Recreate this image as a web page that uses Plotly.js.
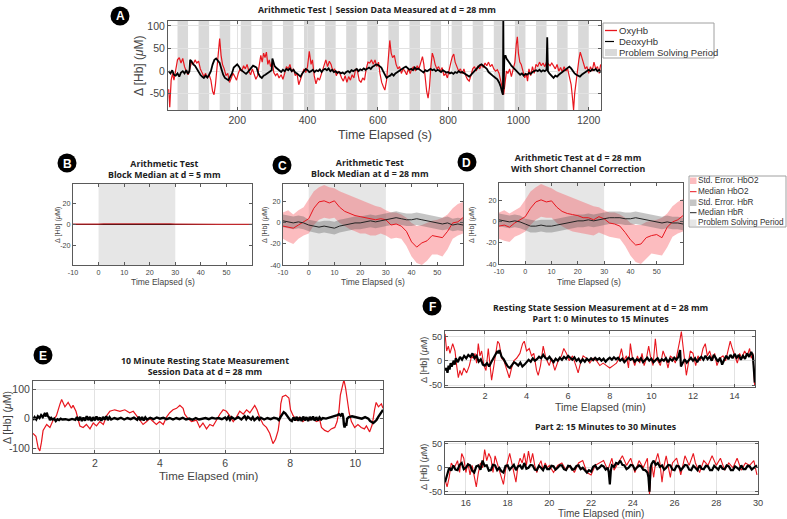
<!DOCTYPE html>
<html><head><meta charset="utf-8">
<script src="https://cdn.plot.ly/plotly-3.0.1.min.js"></script>
<style>html,body{margin:0;padding:0;background:#fff}#chart{width:787px;height:519px}</style>
</head><body><div id="chart"></div>
<script>
// ---------- Panel A: session data (time s, value uM) ----------
const oxyA = [[5,-40],[8,-80],[12,-20],[16,-5],[20,-20],[25,5],[30,25],[35,30],[40,18],[45,28],[50,10],[55,0],[60,-8],[65,5],[70,20],[75,15],[80,25],[85,18],[90,22],[95,5],[100,-5],[105,-12],[110,-5],[115,-15],[120,-8],[125,-20],[130,-45],[134,-52],[138,-30],[142,10],[146,40],[150,72],[154,35],[158,15],[163,5],[168,-10],[173,-5],[178,-25],[183,-15],[188,-5],[193,-12],[198,-20],[203,-5],[208,5],[213,0],[218,12],[223,5],[228,15],[233,0],[238,-8],[243,5],[248,-5],[253,-18],[258,-10],[263,15],[267,35],[271,20],[275,40],[279,30],[283,42],[287,15],[291,25],[295,10],[300,20],[304,-3],[309,-10],[314,-5],[319,-15],[325,-8],[330,-18],[335,-5],[340,10],[345,5],[350,15],[355,-2],[360,5],[365,-10],[370,-5],[375,-30],[379,-20],[384,-8],[390,5],[395,-3],[400,10],[405,44],[410,15],[414,25],[419,-10],[424,-28],[429,-15],[434,-20],[440,-5],[446,10],[452,25],[457,10],[462,22],[467,15],[472,0],[477,5],[482,-10],[487,0],[492,-5],[497,-15],[502,-22],[507,-10],[512,-25],[517,-12],[522,-20],[527,-8],[532,-15],[537,5],[542,0],[547,-20],[552,-25],[557,-15],[562,-20],[567,5],[572,20],[577,18],[582,25],[587,15],[592,25],[597,10],[602,20],[606,-5],[611,-25],[616,-35],[620,-42],[625,-20],[630,20],[634,68],[638,40],[642,30],[647,35],[652,15],[657,5],[662,10],[667,-5],[672,5],[677,0],[682,-8],[687,5],[692,-5],[697,5],[702,10],[707,0],[712,12],[717,5],[722,20],[727,32],[731,15],[735,-20],[739,-45],[743,-60],[747,-35],[751,10],[755,40],[759,30],[763,15],[768,5],[773,10],[778,0],[783,8],[788,-10],[793,-5],[798,-15],[803,5],[808,20],[812,32],[816,38],[820,20],[825,10],[830,0],[835,5],[840,-5],[845,5],[850,-10],[855,-18],[860,-22],[865,-10],[870,5],[875,10],[880,0],[885,12],[890,5],[895,15],[900,8],[905,18],[910,12],[915,20],[920,10],[925,15],[930,5],[935,0],[940,3],[945,-5],[950,-20],[955,-40],[958,-52],[962,-20],[966,0],[970,-5],[975,5],[980,-12],[985,5],[990,20],[994,60],[997,76],[1000,40],[1004,20],[1008,15],[1013,0],[1018,-15],[1022,-5],[1026,-22],[1030,5],[1035,-10],[1040,10],[1045,-5],[1050,15],[1055,10],[1060,20],[1065,12],[1070,18],[1075,10],[1080,20],[1085,15],[1090,12],[1095,18],[1100,10],[1105,5],[1110,15],[1115,0],[1120,8],[1125,-2],[1130,10],[1135,0],[1140,5],[1145,-10],[1150,-30],[1154,-60],[1157,-86],[1160,-50],[1164,-20],[1168,5],[1172,25],[1176,42],[1180,30],[1185,15],[1190,5],[1195,10],[1200,-5],[1205,10],[1210,0],[1215,20],[1220,5],[1225,10],[1230,-5],[1234,15]];
const deoxyA = [[5,0],[10,-5],[15,2],[20,-8],[25,-10],[30,-5],[35,-12],[40,-3],[45,0],[50,-5],[55,2],[60,-6],[64,0],[66,25],[70,22],[75,15],[80,12],[85,5],[90,-3],[95,-8],[100,-12],[105,-15],[110,-10],[115,-14],[120,-8],[125,0],[130,15],[135,25],[140,28],[145,22],[150,18],[155,5],[160,-8],[165,-15],[170,-18],[175,-20],[180,-12],[185,-5],[190,8],[195,12],[200,15],[205,10],[210,3],[215,0],[220,-3],[225,-6],[230,-2],[235,3],[240,8],[245,12],[250,10],[255,8],[260,-5],[265,-12],[270,-15],[275,-10],[280,-8],[285,-5],[290,-2],[295,0],[298,2],[300,28],[303,20],[306,12],[310,8],[315,5],[320,0],[325,-2],[330,3],[335,0],[340,5],[345,2],[350,6],[355,0],[360,3],[365,-3],[370,-5],[375,-8],[380,-12],[385,-5],[390,0],[395,5],[400,2],[405,-2],[410,0],[415,3],[420,-2],[425,2],[430,0],[435,4],[440,-2],[445,3],[450,5],[455,2],[460,6],[465,0],[470,3],[475,-2],[480,0],[485,-4],[490,-2],[495,-5],[500,-3],[505,-6],[510,-2],[515,0],[520,-3],[525,2],[530,0],[535,3],[540,5],[545,0],[550,4],[555,2],[560,6],[565,3],[570,5],[575,8],[580,5],[585,10],[590,12],[595,15],[600,14],[605,10],[610,8],[615,0],[620,-8],[625,-15],[630,-12],[635,-10],[640,-6],[645,-10],[650,-5],[655,-2],[660,0],[665,3],[670,5],[675,8],[680,10],[685,6],[690,3],[695,5],[700,2],[705,8],[710,4],[715,6],[720,2],[725,0],[730,-3],[735,2],[740,0],[745,3],[750,5],[755,2],[760,4],[765,0],[770,3],[775,1],[780,-2],[785,2],[790,0],[795,-3],[800,-2],[805,-5],[810,-3],[815,-6],[820,-2],[825,-4],[830,0],[835,-3],[840,-2],[845,-5],[850,-8],[855,-10],[860,-12],[865,-8],[870,-4],[875,0],[880,5],[885,10],[890,13],[895,15],[900,12],[905,10],[910,5],[915,-2],[920,-6],[925,-10],[930,-12],[935,-15],[940,-18],[945,-25],[950,-35],[954,-48],[956,-52],[957,112],[958,-40],[960,30],[963,35],[966,28],[970,22],[975,18],[980,12],[985,8],[990,3],[995,-2],[1000,-5],[1005,-8],[1010,-5],[1015,-10],[1020,-6],[1025,-8],[1030,-4],[1035,-6],[1040,-2],[1045,0],[1050,2],[1055,0],[1060,3],[1065,-1],[1070,2],[1075,0],[1080,3],[1082,75],[1084,0],[1088,-5],[1092,-8],[1096,-12],[1100,-15],[1105,-10],[1110,-12],[1115,-8],[1120,-5],[1125,0],[1130,3],[1135,5],[1140,8],[1145,10],[1150,6],[1155,0],[1160,-5],[1165,-8],[1170,-10],[1175,-12],[1180,-8],[1185,-5],[1190,-2],[1195,0],[1200,3],[1205,0],[1210,4],[1215,2],[1220,5],[1225,0],[1230,3],[1234,-3]];
const problemStartA = [30,90,150,210,270,330,390,450,510,570,630,690,750,810,870,930,990,1050,1110,1170];
const problemEndA   = [60,120,180,240,300,360,420,480,540,600,660,720,780,840,900,960,1020,1080,1140,1200];
const xTicksA = [200,400,600,800,1000,1200];
const yTicksA = [-50,0,50,100];
const legendA = ['OxyHb','DeoxyHb','Problem Solving Period'];

// ---------- Panels B, C, D: block medians (time s) ----------
const tBlock = [-10,-8,-6,-4,-2,0,2,4,6,8,10,12,14,16,18,20,22,24,26,28,30,32,34,36,38,40,42,44,46,48,50,52,54,56,58,60];
const bMedianHbO2 = [0.3,0.2,0.3,0.2,0.3,0.4,0.5,0.6,0.5,0.6,0.5,0.6,0.5,0.6,0.5,0.6,0.5,0.5,0.4,0.5,0.4,0.3,0.4,0.3,0.2,0.3,0.2,0.1,0.2,0.1,0.2,0.1,0.2,0.1,0.2,0.1];
const bMedianHbR  = [0,0,0,0,0,0,0,0,0,0,0,0,0,0,0,0,0,0,0,0,0,0,0,0,0,0,0,0,0,0,0,0,0,0,0,0];
const cMedianHbO2 = [-3,-4,-5,-2,1,4,14,20,21,19,21,15,11,9,7,6,5,4,3,4,3,-2,-1,-3,-8,-18,-23,-19,-17,-12,-13,-14,-8,0,1,5];
const cUpperHbO2  = [10,12,8,12,15,22,30,34,36,34,33,30,28,26,24,22,20,18,16,15,12,10,10,8,5,0,-3,-2,0,2,3,5,8,14,18,20];
const cLowerHbO2  = [-15,-18,-20,-15,-12,-10,-2,3,5,4,5,0,-3,-6,-8,-10,-10,-12,-12,-10,-12,-15,-14,-15,-22,-32,-38,-40,-36,-30,-30,-32,-25,-15,-12,-10];
const cMedianHbR  = [2,1,0,1,0,-2,-3,-4,-3,-4,-5,-3,-2,-1,0,0,1,2,1,2,3,4,5,4,3,3,4,3,2,1,0,-1,0,-2,-1,-2];
const cUpperHbR   = [8,7,6,7,6,3,2,1,2,2,1,3,4,5,6,6,7,8,7,8,9,10,11,10,9,9,10,9,8,7,6,5,6,4,5,4];
const cLowerHbR   = [-4,-5,-6,-5,-6,-8,-9,-10,-9,-10,-11,-9,-8,-7,-6,-6,-5,-4,-5,-4,-3,-2,-1,-2,-3,-3,-2,-3,-4,-5,-6,-7,-6,-8,-7,-8];
const dMedianHbO2 = [-4,-3,-5,-1,2,5,13,19,21,19,20,14,10,8,7,6,4,4,2,5,3,-1,-2,-4,-10,-17,-22,-21,-15,-13,-12,-15,-5,0,2,6];
const dUpperHbO2  = [9,11,8,11,14,21,29,33,36,34,32,29,27,25,23,21,19,17,15,14,11,9,9,7,4,-1,-3,-3,0,1,2,4,8,15,19,22];
const dLowerHbO2  = [-16,-18,-19,-14,-12,-9,-3,2,5,4,4,-1,-4,-7,-9,-10,-11,-12,-13,-10,-12,-14,-15,-16,-23,-32,-38,-40,-35,-30,-31,-32,-24,-14,-11,-9];
const dMedianHbR  = [2,1,0,1,0,-2,-4,-4,-3,-4,-4,-3,-2,-1,0,1,1,2,1,2,3,4,4,4,3,3,4,3,2,1,0,-1,0,-1,-1,-2];
const dUpperHbR   = [8,7,6,7,6,3,2,1,2,2,2,3,4,5,6,7,7,8,7,8,9,10,10,10,9,9,10,9,8,7,6,5,6,5,5,4];
const dLowerHbR   = [-4,-5,-6,-5,-6,-8,-10,-10,-9,-10,-10,-9,-8,-7,-6,-5,-5,-4,-5,-4,-3,-2,-2,-2,-3,-3,-2,-3,-4,-5,-6,-7,-6,-7,-7,-8];
const problemStartBlock = [0];
const problemEndBlock = [30];
const xTicksBlock = [-10,0,10,20,30,40,50];
const yTicksBlock = [-40,-20,0,20];
const legendD = ['Std. Error. HbO2','Median HbO2','Std. Error. HbR','Median HbR','Problem Solving Period'];

// ---------- Panel E: 10 min resting state (time min) ----------
const oxyE = [[0.1,-50],[0.19,-60],[0.26,-100],[0.31,-110],[0.36,-80],[0.41,-40],[0.52,-20],[0.62,-30],[0.72,-5],[0.82,10],[0.93,50],[0.98,65],[1.08,40],[1.18,55],[1.28,35],[1.33,45],[1.42,25],[1.49,-10],[1.54,-25],[1.64,-30],[1.74,-20],[1.85,-35],[1.95,-15],[2.05,-25],[2.15,-10],[2.26,-20],[2.36,10],[2.46,25],[2.61,30],[2.77,25],[2.92,30],[3.07,20],[3.18,25],[3.28,10],[3.38,-5],[3.48,-20],[3.59,-10],[3.69,0],[3.79,-10],[3.89,-20],[3.99,-10],[4.1,-20],[4.2,5],[4.3,20],[4.4,30],[4.51,35],[4.61,45],[4.71,35],[4.76,15],[4.86,0],[4.97,-10],[5.12,-5],[5.22,-30],[5.32,-15],[5.43,-35],[5.53,-20],[5.63,-25],[5.73,-5],[5.84,15],[5.94,30],[6.04,25],[6.14,10],[6.25,-10],[6.35,5],[6.45,25],[6.56,15],[6.66,30],[6.76,20],[6.86,35],[6.91,45],[6.98,30],[7.06,5],[7.17,-20],[7.27,-30],[7.37,-50],[7.42,-70],[7.47,-85],[7.55,-70],[7.63,-40],[7.68,0],[7.71,50],[7.76,75],[7.86,80],[7.96,70],[8.01,30],[8.09,10],[8.19,-5],[8.29,5],[8.39,-10],[8.5,0],[8.6,-5],[8.7,5],[8.8,-10],[8.91,-5],[8.96,-30],[9.06,-40],[9.16,-45],[9.26,-35],[9.37,-30],[9.44,-10],[9.5,30],[9.54,80],[9.6,110],[9.65,132],[9.7,105],[9.75,60],[9.81,20],[9.88,-10],[9.98,-30],[10.08,-20],[10.18,-30],[10.28,-35],[10.34,-25],[10.44,-45],[10.52,-20],[10.59,30],[10.64,55],[10.71,40],[10.8,50],[10.85,35]];
const deoxyE = [[0.1,-5],[0.15,5],[0.2,-3],[0.25,8],[0.3,2],[0.35,12],[0.4,5],[0.45,15],[0.5,8],[0.52,20],[0.55,10],[0.6,3],[0.62,-5],[0.66,2],[0.7,-3],[0.75,0],[0.8,-8],[0.85,-2],[0.9,-5],[0.95,0],[1.0,-3],[1.1,-2],[1.2,-5],[1.3,-1],[1.4,-4],[1.45,5],[1.5,-6],[1.55,6],[1.6,-8],[1.65,4],[1.7,-7],[1.75,8],[1.8,-5],[1.85,6],[1.9,-8],[1.95,5],[2.0,-6],[2.05,7],[2.1,-5],[2.15,4],[2.2,-7],[2.25,6],[2.3,-4],[2.35,8],[2.4,-5],[2.45,5],[2.5,-3],[2.6,2],[2.7,-2],[2.8,3],[2.9,-3],[3.0,2],[3.1,-2],[3.2,3],[3.3,-4],[3.35,6],[3.4,-5],[3.45,5],[3.5,-6],[3.55,4],[3.6,-3],[3.7,3],[3.8,-2],[3.9,4],[4.0,0],[4.1,3],[4.2,-2],[4.3,2],[4.4,-3],[4.5,2],[4.6,-2],[4.7,3],[4.8,-3],[4.9,0],[5.0,-4],[5.1,2],[5.2,-3],[5.3,0],[5.4,2],[5.5,-2],[5.6,3],[5.7,0],[5.8,2],[5.9,-2],[6.0,4],[6.05,-3],[6.1,6],[6.15,-4],[6.2,5],[6.3,-2],[6.4,5],[6.5,-3],[6.6,8],[6.65,-2],[6.7,6],[6.8,-3],[6.85,5],[6.9,-5],[7.0,4],[7.05,-4],[7.1,3],[7.2,-3],[7.3,2],[7.4,-2],[7.5,3],[7.6,0],[7.65,-5],[7.7,5],[7.75,15],[7.8,22],[7.85,18],[7.9,10],[7.95,5],[8.0,-5],[8.05,-8],[8.1,4],[8.15,-6],[8.2,6],[8.25,-7],[8.3,5],[8.35,-8],[8.4,7],[8.45,-6],[8.5,5],[8.55,-8],[8.6,6],[8.65,-5],[8.7,7],[8.75,-7],[8.8,5],[8.85,-6],[8.9,4],[8.95,-3],[9.0,2],[9.1,0],[9.2,3],[9.3,5],[9.4,8],[9.45,12],[9.5,15],[9.55,10],[9.6,18],[9.63,5],[9.65,-20],[9.67,-30],[9.7,-15],[9.72,-25],[9.75,0],[9.8,5],[9.9,8],[10.0,5],[10.1,3],[10.2,0],[10.3,5],[10.4,0],[10.45,-8],[10.5,-12],[10.55,-15],[10.6,-10],[10.65,-5],[10.7,5],[10.75,15],[10.8,25],[10.85,30]];
const xTicksE = [2,4,6,8,10];
const yTicksE = [-100,0,100];

// ---------- Panel F: 30 min resting state (time min) ----------
const oxyF1 = [[0.08,55],[0.16,20],[0.24,30],[0.32,15],[0.45,35],[0.56,20],[0.64,-10],[0.72,-35],[0.8,-20],[0.88,-30],[0.99,-15],[1.12,-25],[1.25,-10],[1.36,10],[1.44,5],[1.52,15],[1.6,-5],[1.68,35],[1.76,10],[1.84,20],[1.95,-10],[2.05,-20],[2.16,25],[2.24,-15],[2.32,-40],[2.43,-10],[2.53,15],[2.61,40],[2.69,35],[2.8,5],[2.91,0],[3.04,-20],[3.17,-35],[3.28,-15],[3.39,0],[3.52,5],[3.68,15],[3.81,35],[3.89,40],[4.0,20],[4.13,25],[4.24,10],[4.35,15],[4.48,-20],[4.56,-30],[4.67,-10],[4.8,30],[4.93,5],[5.09,-10],[5.2,5],[5.36,-20],[5.52,0],[5.68,10],[5.79,25],[5.92,15],[6.05,0],[6.21,10],[6.37,-10],[6.48,-25],[6.59,-5],[6.72,10],[6.88,5],[7.04,-5],[7.2,5],[7.36,0],[7.52,-10],[7.68,-5],[7.84,-10],[8.0,-15],[8.16,-10],[8.32,-5],[8.45,5],[8.56,25],[8.67,0],[8.8,10],[8.9,-15],[8.99,35],[9.09,5],[9.2,-10],[9.33,10],[9.44,-5],[9.55,15],[9.65,-10],[9.76,5],[9.87,30],[9.95,10],[10.08,-10],[10.19,45],[10.3,0],[10.43,-10],[10.56,20],[10.69,5],[10.8,-15],[10.91,10],[11.04,5],[11.15,-5],[11.28,20],[11.36,40],[11.44,60],[11.52,30],[11.6,-10],[11.68,-30],[11.76,-10],[11.87,20],[12.0,15],[12.13,-10],[12.24,10],[12.35,0],[12.48,25],[12.59,35],[12.69,10],[12.8,20],[12.93,0],[13.04,15],[13.15,-10],[13.28,5],[13.44,10],[13.57,0],[13.68,20],[13.79,40],[13.89,25],[14.0,10],[14.13,-5],[14.24,15],[14.35,5],[14.48,20],[14.61,10],[14.72,25],[14.8,5],[14.88,15],[14.93,-20],[14.96,-50]];
const deoxyF1 = [[0.08,-20],[0.15,-15],[0.2,-25],[0.25,-10],[0.3,-18],[0.35,-5],[0.4,-12],[0.5,0],[0.55,-8],[0.6,5],[0.7,-3],[0.8,8],[0.9,2],[1.0,10],[1.1,5],[1.2,12],[1.3,8],[1.4,15],[1.5,5],[1.6,10],[1.7,-2],[1.8,3],[1.9,-8],[2.0,-10],[2.1,-5],[2.2,-12],[2.3,-3],[2.4,5],[2.5,12],[2.6,20],[2.65,15],[2.7,22],[2.8,8],[2.9,3],[3.0,-5],[3.1,-12],[3.2,-15],[3.3,-8],[3.4,-3],[3.5,-6],[3.6,-10],[3.7,-4],[3.8,-12],[3.9,-8],[4.0,-3],[4.1,2],[4.2,-2],[4.3,5],[4.4,0],[4.5,3],[4.6,8],[4.7,5],[4.8,12],[4.9,6],[5.0,3],[5.1,8],[5.2,2],[5.3,-3],[5.4,4],[5.5,0],[5.6,6],[5.7,2],[5.8,8],[5.9,4],[6.0,10],[6.1,5],[6.2,2],[6.3,7],[6.4,0],[6.5,4],[6.6,-3],[6.7,3],[6.8,-2],[6.9,4],[7.0,0],[7.1,5],[7.2,1],[7.3,6],[7.4,2],[7.5,5],[7.6,0],[7.7,4],[7.8,-2],[7.9,3],[8.0,6],[8.1,2],[8.2,7],[8.3,3],[8.4,6],[8.5,0],[8.6,4],[8.7,-3],[8.8,2],[8.9,6],[9.0,2],[9.1,5],[9.2,-2],[9.3,3],[9.4,0],[9.5,5],[9.6,-3],[9.7,2],[9.8,6],[9.9,0],[10.0,4],[10.1,-3],[10.2,2],[10.3,5],[10.4,-2],[10.5,3],[10.6,0],[10.7,5],[10.8,-3],[10.9,4],[11.0,0],[11.1,6],[11.2,2],[11.3,8],[11.38,22],[11.42,-12],[11.5,-5],[11.6,3],[11.7,-4],[11.8,2],[11.9,6],[12.0,0],[12.1,5],[12.2,-3],[12.3,4],[12.4,8],[12.5,2],[12.6,10],[12.7,3],[12.8,8],[12.9,0],[13.0,12],[13.1,5],[13.2,-2],[13.3,6],[13.4,-8],[13.5,2],[13.6,10],[13.7,3],[13.8,12],[13.9,5],[14.0,14],[14.1,6],[14.2,12],[14.3,2],[14.4,10],[14.5,4],[14.6,15],[14.7,8],[14.8,18],[14.88,10],[14.93,-25],[14.97,-45]];
const oxyF2 = [[15.0,-25],[15.1,-40],[15.2,-20],[15.3,10],[15.45,0],[15.6,15],[15.7,-10],[15.8,30],[15.9,20],[16.0,-10],[16.1,10],[16.2,-15],[16.3,5],[16.4,-20],[16.5,-40],[16.6,-10],[16.7,10],[16.8,0],[16.9,38],[17.0,15],[17.1,30],[17.2,20],[17.3,-10],[17.4,25],[17.5,10],[17.6,0],[17.7,-20],[17.8,-35],[17.9,-5],[18.0,15],[18.1,30],[18.2,10],[18.3,-10],[18.4,-30],[18.5,5],[18.6,20],[18.7,10],[18.8,30],[18.9,5],[19.0,35],[19.1,10],[19.2,30],[19.3,5],[19.4,-10],[19.5,5],[19.6,15],[19.7,-5],[19.8,10],[19.9,0],[20.0,5],[20.2,-10],[20.4,5],[20.6,10],[20.8,-5],[21.0,5],[21.2,-10],[21.4,10],[21.6,15],[21.8,-10],[22.0,-15],[22.2,5],[22.4,10],[22.6,15],[22.8,-5],[23.0,20],[23.1,-5],[23.3,10],[23.5,25],[23.7,5],[23.9,20],[24.1,-10],[24.3,15],[24.5,0],[24.7,20],[24.8,-55],[24.9,10],[25.0,-20],[25.1,15],[25.2,30],[25.3,10],[25.4,-30],[25.5,5],[25.6,25],[25.8,-20],[25.9,10],[26.1,20],[26.3,-15],[26.5,25],[26.7,5],[26.9,30],[27.0,10],[27.2,-10],[27.4,15],[27.6,5],[27.8,25],[28.0,5],[28.2,20],[28.4,-5],[28.6,10],[28.8,0],[29.0,20],[29.2,-5],[29.4,10],[29.6,5],[29.8,15],[29.95,-15]];
const deoxyF2 = [[15.0,-30],[15.1,-15],[15.2,0],[15.3,-6],[15.4,5],[15.5,-4],[15.6,-5],[15.7,6],[15.8,10],[15.9,-3],[16.0,0],[16.1,7],[16.2,5],[16.3,-6],[16.4,-10],[16.5,3],[16.6,5],[16.7,-4],[16.8,15],[16.9,4],[17.0,5],[17.1,-6],[17.2,-5],[17.3,6],[17.4,5],[17.5,-5],[17.6,0],[17.7,-7],[17.8,-10],[17.9,4],[18.0,5],[18.1,-4],[18.2,0],[18.3,6],[18.4,-5],[18.5,3],[18.6,5],[18.7,-3],[18.8,10],[18.9,-2],[19.0,0],[19.1,6],[19.2,5],[19.3,-4],[19.4,-5],[19.5,4],[19.6,0],[19.7,-5],[19.8,5],[19.9,-3],[20.0,-3],[20.1,4],[20.2,3],[20.3,-4],[20.4,0],[20.5,5],[20.6,5],[20.7,-3],[20.8,-5],[20.9,4],[21.0,3],[21.1,-4],[21.2,-3],[21.3,4],[21.4,5],[21.5,-3],[21.6,0],[21.7,-6],[21.8,-10],[21.9,-5],[22.0,-8],[22.1,2],[22.2,5],[22.3,-3],[22.4,0],[22.5,5],[22.6,3],[22.7,-4],[22.8,0],[22.85,-10],[22.9,-35],[22.95,-5],[23.0,5],[23.1,2],[23.2,10],[23.3,8],[23.4,15],[23.5,6],[23.6,5],[23.7,-3],[23.8,0],[23.9,6],[24.0,5],[24.1,-4],[24.2,0],[24.3,5],[24.4,3],[24.5,-4],[24.6,-5],[24.7,-10],[24.75,-20],[24.8,-50],[24.85,0],[24.9,8],[25.0,15],[25.1,6],[25.2,10],[25.3,2],[25.4,5],[25.5,-4],[25.6,0],[25.7,6],[25.8,5],[25.9,-4],[26.0,-5],[26.1,4],[26.2,3],[26.3,-5],[26.4,0],[26.5,6],[26.6,5],[26.7,-4],[26.8,-5],[26.9,4],[27.0,0],[27.1,-5],[27.2,5],[27.3,-2],[27.4,-3],[27.5,4],[27.6,3],[27.7,-5],[27.8,-5],[27.9,4],[28.0,0],[28.1,-4],[28.2,5],[28.3,-2],[28.4,-3],[28.5,5],[28.6,3],[28.7,-5],[28.8,-5],[28.9,3],[29.0,0],[29.1,-4],[29.2,5],[29.3,-3],[29.4,-3],[29.5,4],[29.6,3],[29.7,-4],[29.8,0],[29.95,5]];
const xTicksF1 = [2,4,6,8,10,12,14];
const xTicksF2 = [16,18,20,22,24,26,28,30];
const yTicksF = [-50,0,50];

// ---------- helpers ----------
const W = 787, H = 519;
const px = v => v / W;
const py = v => 1 - v / H;
const RED = '#e8161e';
const BLACK = '#000000';
const PINK = 'rgba(246,80,86,0.38)';
const GREYBAND = 'rgba(80,80,80,0.33)';
const TICKFONT = 'Liberation Sans, Arial, sans-serif';
const TITLEFONT = 'Open Sans, sans-serif';
const xs = pts => pts.map(p => p[0]);
const ys = pts => pts.map(p => p[1]);

function axis(domPx, range, anchor, tickvals, size, grid, isY) {
  const dom = isY ? [py(domPx[1]), py(domPx[0])] : [px(domPx[0]), px(domPx[1])];
  return {
    domain: dom, range: range, anchor: anchor, autorange: false,
    showline: true, mirror: 'ticks', linecolor: '#5a5a5a', linewidth: 1,
    ticks: 'inside', ticklen: 3, tickwidth: 1, tickcolor: '#5a5a5a',
    tickvals: tickvals, ticktext: tickvals.map(String),
    tickfont: { family: TICKFONT, size: size, color: '#444' },
    showgrid: grid, gridcolor: '#e2e2e2', gridwidth: 1,
    zeroline: false, automargin: false, fixedrange: true
  };
}

const traces = [];
// Panel A
traces.push({ x: xs(oxyA), y: ys(oxyA), xaxis: 'x', yaxis: 'y', type: 'scatter', mode: 'lines', line: { color: RED, width: 1.2 } });
traces.push({ x: xs(deoxyA), y: ys(deoxyA), xaxis: 'x', yaxis: 'y', type: 'scatter', mode: 'lines', line: { color: BLACK, width: 1.8 } });
// Panel B
traces.push({ x: tBlock, y: bMedianHbR, xaxis: 'x2', yaxis: 'y2', mode: 'lines', line: { color: BLACK, width: 1 } });
traces.push({ x: tBlock, y: bMedianHbO2, xaxis: 'x2', yaxis: 'y2', mode: 'lines', line: { color: '#c0282c', width: 1.2 } });
// Panels C and D
function blockTraces(xa, ya, lowO, upO, medO, lowR, upR, medR) {
  const none = { width: 0, color: 'rgba(0,0,0,0)' };
  return [
    { x: tBlock, y: lowO, xaxis: xa, yaxis: ya, mode: 'lines', line: none },
    { x: tBlock, y: upO, xaxis: xa, yaxis: ya, mode: 'lines', fill: 'tonexty', fillcolor: PINK, line: none },
    { x: tBlock, y: lowR, xaxis: xa, yaxis: ya, mode: 'lines', line: none },
    { x: tBlock, y: upR, xaxis: xa, yaxis: ya, mode: 'lines', fill: 'tonexty', fillcolor: GREYBAND, line: none },
    { x: tBlock, y: medO, xaxis: xa, yaxis: ya, mode: 'lines', line: { color: RED, width: 1 } },
    { x: tBlock, y: medR, xaxis: xa, yaxis: ya, mode: 'lines', line: { color: '#222', width: 1 } }
  ];
}
traces.push(...blockTraces('x3', 'y3', cLowerHbO2, cUpperHbO2, cMedianHbO2, cLowerHbR, cUpperHbR, cMedianHbR));
traces.push(...blockTraces('x4', 'y4', dLowerHbO2, dUpperHbO2, dMedianHbO2, dLowerHbR, dUpperHbR, dMedianHbR));
// Panel E
traces.push({ x: xs(oxyE), y: ys(oxyE), xaxis: 'x5', yaxis: 'y5', mode: 'lines', line: { color: RED, width: 1.2 } });
traces.push({ x: xs(deoxyE), y: ys(deoxyE), xaxis: 'x5', yaxis: 'y5', mode: 'lines', line: { color: BLACK, width: 2.4 } });
// Panel F
traces.push({ x: xs(oxyF1), y: ys(oxyF1), xaxis: 'x6', yaxis: 'y6', mode: 'lines', line: { color: RED, width: 1.1 } });
traces.push({ x: xs(deoxyF1), y: ys(deoxyF1), xaxis: 'x6', yaxis: 'y6', mode: 'lines', line: { color: BLACK, width: 2.2 } });
traces.push({ x: xs(oxyF2), y: ys(oxyF2), xaxis: 'x7', yaxis: 'y7', mode: 'lines', line: { color: RED, width: 1.1 } });
traces.push({ x: xs(deoxyF2), y: ys(deoxyF2), xaxis: 'x7', yaxis: 'y7', mode: 'lines', line: { color: BLACK, width: 2.2 } });
traces.forEach(t => { t.showlegend = false; t.hoverinfo = 'skip'; });

// shapes: problem-solving periods
const shapes = [];
problemStartA.forEach((s, i) => shapes.push({ type: 'rect', xref: 'x', yref: 'y domain', x0: s, x1: problemEndA[i], y0: 0, y1: 1,
  fillcolor: '#d9d9d9', line: { width: 0 }, layer: 'below' }));
[['x2', 'y2'], ['x3', 'y3'], ['x4', 'y4']].forEach(([xa, ya]) => {
  problemStartBlock.forEach((s, i) => shapes.push({ type: 'rect', xref: xa, yref: ya + ' domain', x0: s, x1: problemEndBlock[i], y0: 0, y1: 1,
    fillcolor: '#e6e6e6', line: { width: 0 }, layer: 'below' }));
});

const annotations = [];
function ann(text, x, y, size, extra) {
  annotations.push(Object.assign({ text: text, x: px(x), y: py(y), xref: 'paper', yref: 'paper',
    showarrow: false, xanchor: 'center', yanchor: 'middle', borderpad: 0,
    font: { family: TITLEFONT, size: size, color: '#222' } }, extra || {}));
}
function prect(x0, y0, x1, y1, fill, lineColor) {
  shapes.push({ type: 'rect', xref: 'paper', yref: 'paper', x0: px(x0), x1: px(x1), y0: py(y1), y1: py(y0),
    fillcolor: fill, line: lineColor ? { color: lineColor, width: 1 } : { width: 0 }, layer: 'above' });
}
function pline(x0, x1, y, color, width, dash) {
  shapes.push({ type: 'line', xref: 'paper', yref: 'paper', x0: px(x0), x1: px(x1), y0: py(y), y1: py(y),
    line: { color: color, width: width, dash: dash || 'solid' }, layer: 'above' });
}
function label(letter, cx, cy) {
  shapes.push({ type: 'circle', xref: 'paper', yref: 'paper', x0: px(cx - 9.5), x1: px(cx + 9.5), y0: py(cy + 9.5), y1: py(cy - 9.5),
    fillcolor: '#000', line: { width: 0 }, layer: 'above' });
  ann('<b>' + letter + '</b>', cx, cy + 0.5, 12, { font: { family: TICKFONT, size: 12, color: '#fff' } });
}
label('A', 120, 16); label('B', 67, 163); label('C', 282, 165); label('D', 467, 162); label('E', 43, 355); label('F', 432, 306);

// Legend A (drawn as a MATLAB-style box)
const LF = { family: TICKFONT, size: 9.5, color: '#333' };
prect(603, 23, 714, 58, '#fff', '#a0a0a0');
pline(605, 617, 30.5, RED, 1.3);
pline(605, 617, 41.5, BLACK, 1.2, 'dashdot');
prect(605, 49, 617, 56, '#d9d9d9');
[30.5, 41.5, 52.5].forEach((y, i) => ann(legendA[i], 618, y, 9.5, { xanchor: 'left', font: LF }));

// Legend D
const LF2 = { family: TICKFONT, size: 8.2, color: '#333' };
prect(689, 176, 786, 227, '#fff', '#a0a0a0');
prect(690, 177.5, 696.5, 184, PINK);
pline(690, 696.5, 191.7, RED, 1);
prect(690, 199.5, 696.5, 206, GREYBAND);
pline(690, 696.5, 212.7, '#222', 1);
prect(690, 219.5, 696.5, 226, '#e6e6e6');
[180.7, 191.7, 202.7, 212.7, 222.7].forEach((y, i) => ann(legendD[i], 697, y, 8.2, { xanchor: 'left', font: LF2 }));

const YT = 'Δ [Hb] (<i>μ</i>M)';
const TF = { family: TICKFONT, color: '#444' };
const tf = s => Object.assign({ size: s }, TF);
// titles
ann('<b>Arithmetic Test | Session Data Measured at d = 28 mm</b>', 377, 10, 8.8);
ann('<b>Arithmetic Test<br>Block Median at d = 5 mm</b>', 164, 169, 8.8);
ann('<b>Arithmetic Test<br>Block Median at d = 28 mm</b>', 370, 168, 8.8);
ann('<b>Arithmetic Test at d = 28 mm<br>With Short Channel Correction</b>', 578, 163, 8.8);
ann('<b>10 Minute Resting State Measurement<br>Session Data at d = 28 mm</b>', 205, 366, 8.8);
ann('<b>Resting State Session Measurement at d = 28 mm<br>Part 1: 0 Minutes to 15 Minutes</b>', 600, 313, 8.8);
ann('<b>Part 2: 15 Minutes to 30 Minutes</b>', 606, 427, 8.8);
// axis titles
ann('Time Elapsed (s)', 385, 135, 12.5, { font: tf(12.5) });
ann(YT, 139, 66, 12, { textangle: -90, font: tf(12) });
ann('Time Elapsed (s)', 163, 282, 8.5, { font: tf(8.5) });
ann('Time Elapsed (s)', 373, 282, 8.5, { font: tf(8.5) });
ann('Time Elapsed (s)', 589, 282, 8.5, { font: tf(8.5) });
ann(YT, 58, 225, 7.2, { textangle: -90, font: tf(7.2) });
ann(YT, 265, 225, 7.2, { textangle: -90, font: tf(7.2) });
ann(YT, 472, 225, 7.2, { textangle: -90, font: tf(7.2) });
ann('Time Elapsed (min)', 208, 476, 11.5, { font: tf(11.5) });
ann(YT, 7, 418, 10.5, { textangle: -90, font: tf(10.5) });
ann('Time Elapsed (min)', 600, 407, 10.5, { font: tf(10.5) });
ann(YT, 424, 360, 9.2, { textangle: -90, font: tf(9.2) });
ann('Time Elapsed (min)', 601, 513, 10, { font: tf(10) });
ann(YT, 424, 467, 9.2, { textangle: -90, font: tf(9.2) });

const layout = {
  width: W, height: H, autosize: false,
  margin: { l: 0, r: 0, t: 0, b: 0, pad: 0 },
  paper_bgcolor: '#fff', plot_bgcolor: '#fff',
  showlegend: false,
  xaxis:  axis([168, 601], [3, 1235], 'y', xTicksA, 10.5, true, false),
  yaxis:  axis([21, 110], [-86, 111], 'x', yTicksA, 10.5, true, true),
  xaxis2: axis([73, 252], [-10, 60], 'y2', xTicksBlock, 7.2, false, false),
  yaxis2: axis([184, 265], [-38, 38], 'x2', yTicksBlock, 7.2, false, true),
  xaxis3: axis([283, 463], [-10, 60], 'y3', xTicksBlock, 7.2, false, false),
  yaxis3: axis([184, 265], [-40, 37], 'x3', yTicksBlock, 7.2, false, true),
  xaxis4: axis([499, 683], [-10, 60], 'y4', xTicksBlock, 7.2, false, false),
  yaxis4: axis([183, 264], [-40, 37], 'x4', yTicksBlock, 7.2, false, true),
  xaxis5: axis([33, 383], [0.1, 10.85], 'y5', xTicksE, 10.5, true, false),
  yaxis5: axis([381, 453], [-117, 128], 'x5', yTicksE, 10.5, true, true),
  xaxis6: axis([445, 755], [0.08, 14.98], 'y6', xTicksF1, 9.2, true, false),
  yaxis6: axis([331, 387], [-54, 61], 'x6', yTicksF, 9.2, true, true),
  xaxis7: axis([445, 758], [15, 30], 'y7', xTicksF2, 9.2, true, false),
  yaxis7: axis([442, 494], [-55, 54], 'x7', yTicksF, 9.2, true, true),
  shapes: shapes,
  annotations: annotations
};

Plotly.newPlot('chart', traces, layout, { staticPlot: true, displayModeBar: false });
</script></body></html>
